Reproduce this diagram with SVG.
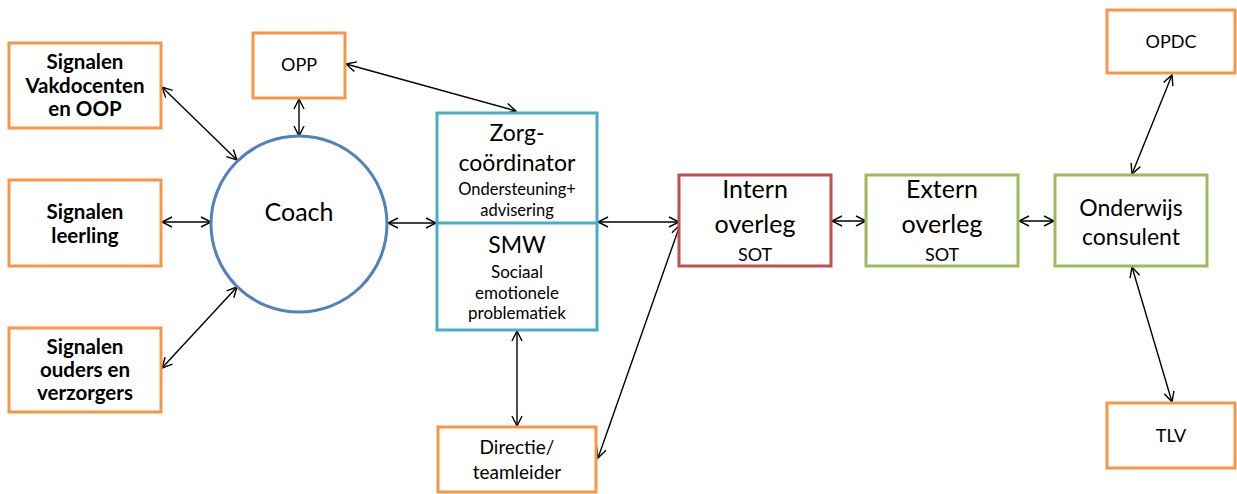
<svg xmlns="http://www.w3.org/2000/svg" width="1237" height="494" viewBox="0 0 1237 494">
<defs>
<marker id="ah" viewBox="0 0 12 12" refX="11" refY="6" markerWidth="12" markerHeight="12" markerUnits="userSpaceOnUse" orient="auto-start-reverse">
<path d="M1,1 L11,6 L1,11" fill="none" stroke="#000" stroke-width="1.4"/>
</marker>
<style>
.o{fill:#fff;stroke:#F79646;stroke-width:3}
.t{fill:#fff;stroke:#4BACC6;stroke-width:3}
.r{fill:#fff;stroke:#C0504D;stroke-width:3}
.g{fill:#fff;stroke:#9BBB59;stroke-width:3}
.c{fill:#fff;stroke:#4F81BD;stroke-width:3}
text{font-family:Lato,"Liberation Sans",sans-serif;fill:#000;text-anchor:middle}
.b{font-weight:bold;font-size:20.5px}
.n18{font-size:18px}
.n19{font-size:19px}
.n16{font-size:16.5px}
.n17{font-size:17px}
.n23{font-size:23px}
.n25{font-size:25px}
.cn line{stroke:#000;stroke-width:1.4;marker-start:url(#ah);marker-end:url(#ah)}
</style>
</defs>
<g class="cn">
<line x1="162" y1="87" x2="237" y2="160"/>
<line x1="162" y1="222" x2="211" y2="222"/>
<line x1="162" y1="368" x2="237" y2="287"/>
<line x1="299" y1="99" x2="299" y2="136"/>
<line x1="346" y1="64" x2="516" y2="111"/>
<line x1="388" y1="223" x2="436" y2="223"/>
<line x1="598" y1="222" x2="679" y2="222"/>
<line x1="598" y1="458" x2="680" y2="225"/>
<line x1="517" y1="331" x2="517" y2="426"/>
<line x1="832" y1="221" x2="866" y2="221"/>
<line x1="1019" y1="221" x2="1054" y2="221"/>
<line x1="1132" y1="174" x2="1172" y2="75"/>
<line x1="1132" y1="267" x2="1172" y2="402"/>
</g>
<g id="vakdocenten">
<rect class="o" x="9" y="43" width="152" height="85"/>
<text class="b" x="85" y="69">Signalen</text>
<text class="b" x="85" y="93">Vakdocenten</text>
<text class="b" x="85" y="116">en OOP</text>
</g>
<g id="leerling">
<rect class="o" x="9" y="180" width="152" height="86"/>
<text class="b" x="85" y="219">Signalen</text>
<text class="b" x="85" y="243">leerling</text>
</g>
<g id="ouders">
<rect class="o" x="9" y="328" width="152" height="84"/>
<text class="b" x="85" y="354">Signalen</text>
<text class="b" x="85" y="377">ouders en</text>
<text class="b" x="85" y="400">verzorgers</text>
</g>
<g id="opp">
<rect class="o" x="253" y="33" width="92" height="65"/>
<text class="n18" x="299" y="71">OPP</text>
</g>
<g id="coach">
<circle class="c" cx="299" cy="224" r="88"/>
<text class="n25" x="299" y="221">Coach</text>
</g>
<g id="zorg">
<rect class="t" x="437" y="113" width="160" height="217"/>
<line x1="437" y1="223" x2="597" y2="223" stroke="#4BACC6" stroke-width="3"/>
<text class="n23" x="517" y="141">Zorg-</text>
<text class="n23" x="517" y="171">coördinator</text>
<text class="n16" x="517" y="195">Ondersteuning+</text>
<text class="n16" x="517" y="216">advisering</text>
<text class="n23" x="517" y="253">SMW</text>
<text class="n17" x="517" y="278">Sociaal</text>
<text class="n17" x="517" y="299">emotionele</text>
<text class="n17" x="517" y="319">problematiek</text>
</g>
<g id="directie">
<rect class="o" x="438" y="427" width="158" height="65"/>
<text class="n19" x="517" y="454">Directie/</text>
<text class="n19" x="517" y="479">teamleider</text>
</g>
<g id="intern">
<rect class="r" x="679" y="175" width="152" height="91"/>
<text class="n25" x="755" y="198">Intern</text>
<text class="n25" x="755" y="233">overleg</text>
<text class="n18" x="755" y="261">SOT</text>
</g>
<g id="extern">
<rect class="g" x="866" y="175" width="152" height="91"/>
<text class="n25" x="942" y="198">Extern</text>
<text class="n25" x="942" y="233">overleg</text>
<text class="n18" x="942" y="261">SOT</text>
</g>
<g id="onderwijs">
<rect class="g" x="1055" y="175" width="152" height="91"/>
<text class="n23" x="1131" y="216">Onderwijs</text>
<text class="n23" x="1131" y="245">consulent</text>
</g>
<g id="opdc">
<rect class="o" x="1107" y="10" width="128" height="63"/>
<text class="n18" x="1171" y="48">OPDC</text>
</g>
<g id="tlv">
<rect class="o" x="1107" y="403" width="128" height="65"/>
<text class="n18" x="1171" y="442">TLV</text>
</g>
</svg>
